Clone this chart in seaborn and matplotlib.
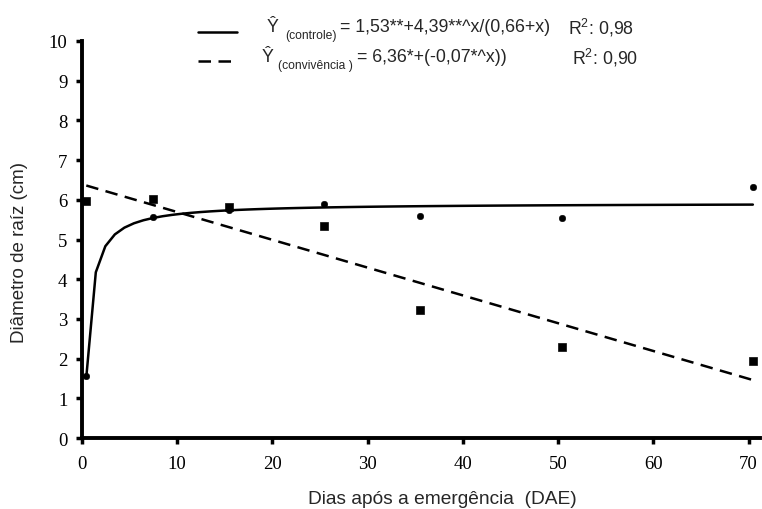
import numpy as np
import pandas as pd
import matplotlib
matplotlib.use("Agg")
import matplotlib.pyplot as plt
from matplotlib.lines import Line2D
import seaborn as sns

# Dados
dae = [0, 7, 15, 25, 35, 50, 70]
controle = [1.55, 5.57, 5.75, 5.90, 5.59, 5.54, 6.33]
convivencia = [5.96, 6.02, 5.82, 5.35, 3.23, 2.28, 1.94]
x_ticks = [0, 10, 20, 30, 40, 50, 60, 70]
y_ticks = [0, 1, 2, 3, 4, 5, 6, 7, 8, 9, 10]

desloc = 0.45  # os pontos do Excel ficam um pouco à direita do tick

# Curvas ajustadas (equações da legenda)
x_fit = np.arange(0, 71)
y_controle = 1.53 + 4.39 * x_fit / (0.66 + x_fit)
y_conviv = 6.36 - 0.07 * x_fit

df = pd.DataFrame({"x": np.array(dae) + desloc, "controle": controle, "conv": convivencia})
df_fit = pd.DataFrame({"x": x_fit + desloc, "controle": y_controle, "conv": y_conviv})

sns.set_style("white")
plt.rcParams["font.family"] = ["Liberation Sans", "DejaVu Sans"]
plt.rcParams["mathtext.fontset"] = "custom"
plt.rcParams["mathtext.rm"] = "Liberation Sans"

W, H = 762, 510
fig = plt.figure(figsize=(W / 100, H / 100), dpi=100)
ax = fig.add_axes([82 / W, 1 - 439 / H, (760 - 82) / W, (439 - 42) / H])

tracejado = (0, (5, 3))
sns.lineplot(data=df_fit, x="x", y="controle", ax=ax, color="black", lw=1.8)
sns.lineplot(data=df_fit, x="x", y="conv", ax=ax, color="black", lw=1.8, linestyle=tracejado)
sns.scatterplot(data=df, x="x", y="controle", ax=ax, color="black", marker="o", s=22, edgecolor="black", zorder=5)
sns.scatterplot(data=df, x="x", y="conv", ax=ax, color="black", marker="s", s=34, edgecolor="black", zorder=5)

ax.set_xlim(0, 71.2)
ax.set_ylim(0, 10)
ax.set_xticks(x_ticks)
ax.set_yticks(y_ticks)
for lab in ax.get_xticklabels() + ax.get_yticklabels():
    lab.set_fontfamily("Liberation Serif")
    lab.set_fontsize(13.5)
ax.tick_params(axis="both", bottom=True, left=True, direction="out", length=4.5, width=2.5,
               color="black", labelcolor="black")
ax.tick_params(axis="x", pad=8)
ax.tick_params(axis="y", pad=6)
sns.despine(ax=ax)
for s in ["left", "bottom"]:
    ax.spines[s].set_linewidth(2.8)
    ax.spines[s].set_color("black")

ax.set_xlabel("Dias após a emergência  (DAE)", fontsize=13.8)
ax.set_ylabel("Diâmetro de raíz (cm)", fontsize=13.5)
ax.xaxis.set_label_coords(0.531, -0.132)
ax.yaxis.set_label_coords(-0.079, 0.47)

# Legenda com as equações
def px(x, y):
    return x / W, 1 - y / H

fig.add_artist(Line2D([198 / W, 237 / W], [1 - 33 / H] * 2, color="black", lw=1.8))
fig.add_artist(Line2D([198 / W, 237 / W], [1 - 62 / H] * 2, color="black", lw=1.8, linestyle=tracejado))

fs, fs_sub = 12.8, 8.7
fig.text(*px(267, 28), "Ŷ", fontsize=fs, va="center")
fig.text(*px(285, 36), "(controle)", fontsize=fs_sub, va="center")
fig.text(*px(340, 28), "= 1,53**+4,39**^x/(0,66+x)", fontsize=fs, va="center")
fig.text(*px(568, 28), "R$^{\\mathregular{2}}$: 0,98", fontsize=fs, va="center")

fig.text(*px(262, 58), "Ŷ", fontsize=fs, va="center")
fig.text(*px(278, 66), "(convivência )", fontsize=fs_sub, va="center")
fig.text(*px(357, 58), "= 6,36*+(-0,07*^x))", fontsize=fs, va="center")
fig.text(*px(572, 58), "R$^{\\mathregular{2}}$: 0,90", fontsize=fs, va="center")

fig.savefig("out.png", dpi=100)
